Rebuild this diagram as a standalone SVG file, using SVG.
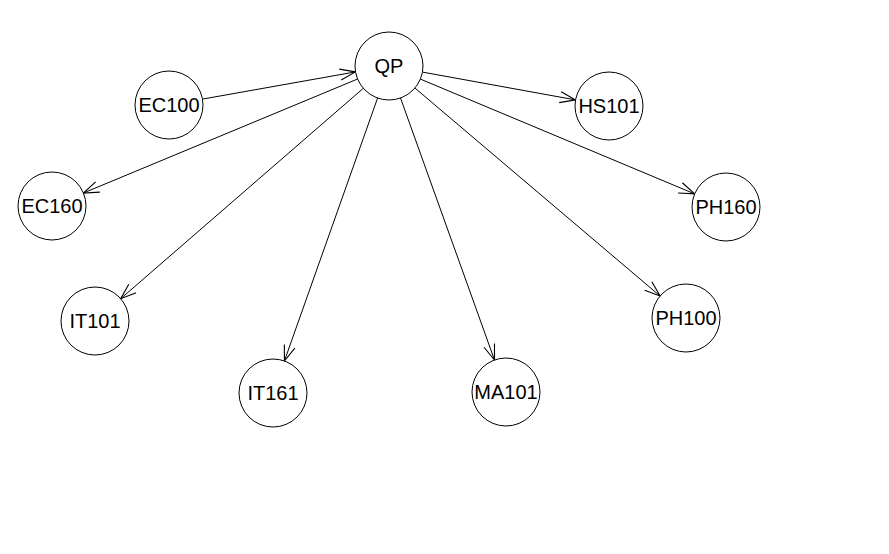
<svg xmlns="http://www.w3.org/2000/svg" width="889" height="554" viewBox="0 0 889 554">
  <style>
    .node circle { fill: #ffffff; stroke: #000000; stroke-width: 1; }
    .node text { font-family: "Liberation Sans", Arial, sans-serif; font-size: 20px; fill: #000000; text-anchor: middle; dominant-baseline: central; }
    .edge { stroke: #000000; stroke-width: 1; fill: none; marker-end: url(#arrow); }
  </style>
  <defs>
    <marker id="arrow" markerUnits="userSpaceOnUse" markerWidth="20" markerHeight="20" viewBox="-16 -8 18 16" refX="0" refY="0" orient="auto">
      <path d="M-14,-5 L0,0 L-14,5" fill="none" stroke="#000000" stroke-width="1"/>
    </marker>
  </defs>
  <rect width="889" height="554" fill="#ffffff"/>

  <g id="connectors">
    <line class="edge" x1="202.5" y1="99.1" x2="355.5" y2="71.9"/>
    <line class="edge" x1="422.5" y1="72.1" x2="575.5" y2="99.9"/>
    <line class="edge" x1="357.6" y1="79.0" x2="83.4" y2="193.0"/>
    <line class="edge" x1="420.4" y1="79.1" x2="694.6" y2="193.9"/>
    <line class="edge" x1="363.3" y1="88.3" x2="120.7" y2="298.7"/>
    <line class="edge" x1="414.9" y1="88.0" x2="660.1" y2="296.0"/>
    <line class="edge" x1="377.6" y1="98.0" x2="284.4" y2="361.0"/>
    <line class="edge" x1="400.5" y1="98.0" x2="494.5" y2="360.0"/>
  </g>

  <g id="QP" class="node"><circle cx="389" cy="66" r="34"/><text x="389" y="66">QP</text></g>
  <g id="EC100" class="node"><circle cx="169" cy="105" r="34"/><text x="169" y="105">EC100</text></g>
  <g id="HS101" class="node"><circle cx="609" cy="106" r="34"/><text x="609" y="106">HS101</text></g>
  <g id="EC160" class="node"><circle cx="52" cy="206" r="34"/><text x="52" y="206">EC160</text></g>
  <g id="PH160" class="node"><circle cx="726" cy="207" r="34"/><text x="726" y="207">PH160</text></g>
  <g id="IT101" class="node"><circle cx="95" cy="321" r="34"/><text x="95" y="321">IT101</text></g>
  <g id="PH100" class="node"><circle cx="686" cy="318" r="34"/><text x="686" y="318">PH100</text></g>
  <g id="IT161" class="node"><circle cx="273" cy="393" r="34"/><text x="273" y="393">IT161</text></g>
  <g id="MA101" class="node"><circle cx="506" cy="392" r="34"/><text x="506" y="392">MA101</text></g>
</svg>
